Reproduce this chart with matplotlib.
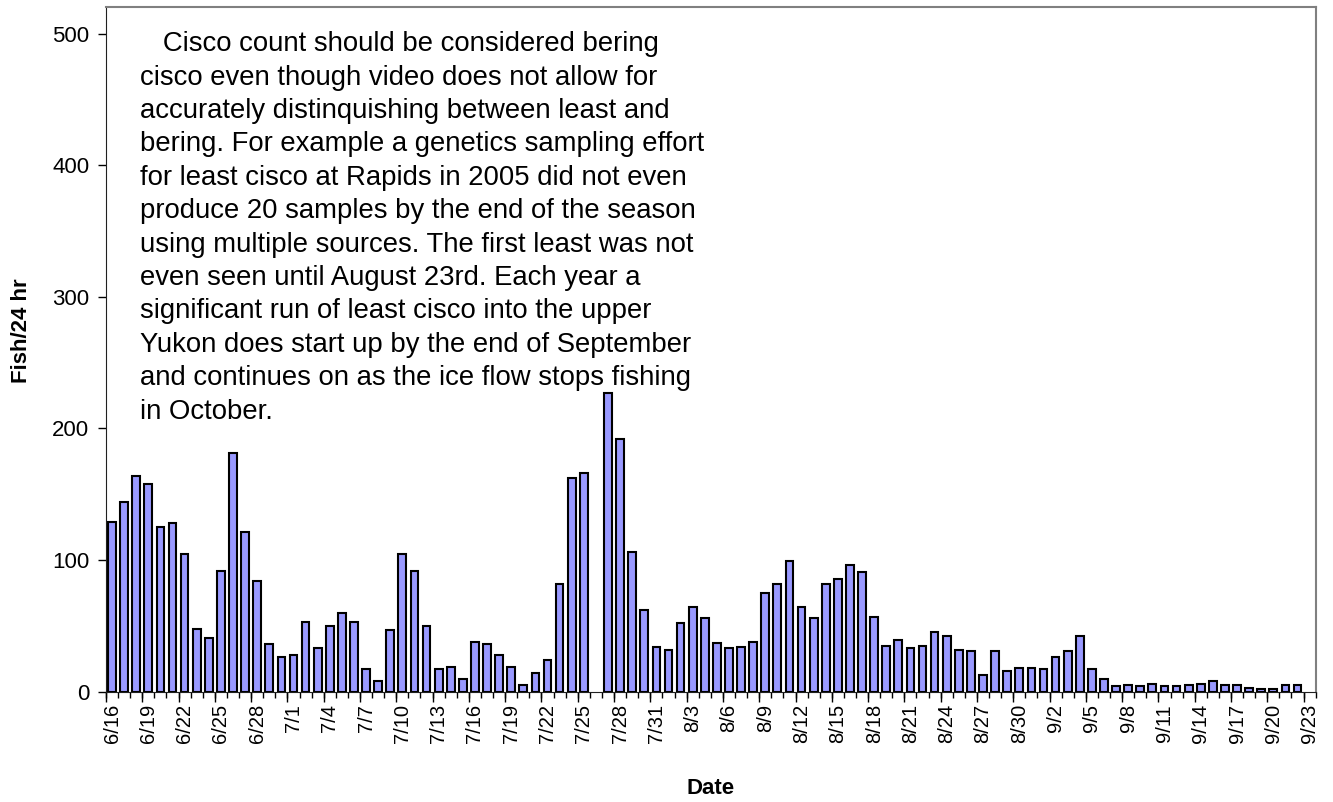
import numpy as np
import pandas as pd
import matplotlib
matplotlib.use("Agg")
import matplotlib.pyplot as plt


# daily dates, 6/16 to 9/23
DATES = pd.date_range("2005-06-16", "2005-09-23", freq="D")
DATE_LABELS = [f"{d.month}/{d.day}" for d in DATES]

# fish per 24 hr (nan = no count that day)
JUNE = [129, 144, 164, 158, 125, 128, 105, 48, 41, 92, 181, 121, 84, 36, 26]
JULY = [28, 53, 33, 50, 60, 53, 17, 8, 47, 105, 92, 50, 17, 19, 10,
        38, 36, 28, 19, 5, 14, 24, 82, 162, 166, np.nan, 227, 192, 106, 62, 34]
AUGUST = [32, 52, 64, 56, 37, 33, 34, 38, 75, 82, 99, 64, 56, 82, 86,
          96, 91, 57, 35, 39, 33, 35, 45, 42, 32, 31, 13, 31, 16, 18, 18]
SEPTEMBER = [17, 26, 31, 42, 17, 10, 4, 5, 4, 6, 4, 4, 5, 6, 8,
             5, 5, 3, 2, 2, 5, 5, np.nan]

NOTE = (
    "   Cisco count should be considered bering\n"
    "cisco even though video does not allow for\n"
    "accurately distinquishing between least and\n"
    "bering. For example a genetics sampling effort\n"
    "for least cisco at Rapids in 2005 did not even\n"
    "produce 20 samples by the end of the season\n"
    "using multiple sources. The first least was not\n"
    "even seen until August 23rd. Each year a\n"
    "significant run of least cisco into the upper\n"
    "Yukon does start up by the end of September\n"
    "and continues on as the ice flow stops fishing\n"
    "in October."
)


def main():
    plt.rcParams["font.family"] = ["Liberation Sans", "DejaVu Sans"]

    counts = np.array(JUNE + JULY + AUGUST + SEPTEMBER, dtype=float)
    x = np.arange(len(DATE_LABELS))

    fig = plt.figure(figsize=(13.33, 8.02), dpi=100)
    ax = fig.add_axes([0.0795, 0.1375, 0.9075, 0.8535])

    ax.bar(x, counts, width=0.64, color="#9999FF", edgecolor="black", linewidth=1.5)

    ax.set_xlim(-0.5, len(x) - 0.5)
    ax.set_ylim(0, 520)

    # y axis
    ax.set_yticks(range(0, 501, 100))
    ax.tick_params(axis="y", direction="out", length=6, width=1, labelsize=16, pad=6)

    # x labels every 3rd day at category centres
    ax.set_xticks(x[::3])
    ax.set_xticklabels(DATE_LABELS[::3], rotation=90, fontsize=14.5)
    ax.tick_params(axis="x", which="major", length=0, pad=9)
    ax.set_xticks(np.arange(-0.5, len(x), 1), minor=True)
    ax.tick_params(axis="x", which="minor", direction="out", length=4, width=1)

    # longer ticks on the boundaries before labelled days
    sec = ax.secondary_xaxis("bottom")
    sec.set_xticks(np.arange(-0.5, len(x), 3))
    sec.set_xticklabels([])
    sec.tick_params(axis="x", direction="out", length=7, width=1)
    sec.spines["bottom"].set_visible(False)

    for side in ["top", "right"]:
        ax.spines[side].set_color("#808080")
        ax.spines[side].set_linewidth(1.5)
    ax.spines["left"].set_color("#202020")
    ax.spines["bottom"].set_color("#202020")

    ax.set_ylabel("Fish/24 hr", fontsize=16, fontweight="bold")
    ax.yaxis.set_label_coords(-0.061, 0.528)
    ax.set_xlabel("Date", fontsize=16, fontweight="bold", labelpad=25)

    ax.text(0.028, 0.965, NOTE, transform=ax.transAxes, fontsize=19.8,
            va="top", ha="left", linespacing=1.37)

    fig.savefig("out.png", dpi=100)
    plt.close(fig)


if __name__ == "__main__":
    main()
